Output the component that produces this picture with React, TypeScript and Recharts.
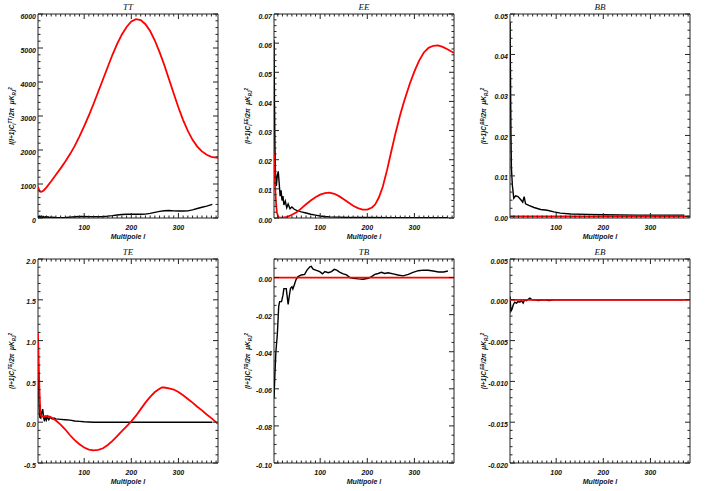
import React from 'react';
import { LineChart, Line, XAxis, YAxis, ReferenceArea } from 'recharts';

// ---------------- data ----------------
const X_DOMAIN: [number, number] = [2, 384];
const X_MAJOR = [100, 200, 300];
const X_LABELS = ['100', '200', '300'];

// TT
const TT_THEORY_L = [2, 4, 6, 8, 10, 14, 20, 30, 40, 50, 60, 70, 80, 90, 100, 110, 120, 130, 140, 150, 160, 170, 180, 190, 200, 210, 220, 230, 240, 250, 260, 270, 280, 290, 300, 310, 320, 330, 340, 350, 360, 370, 384];
const TT_THEORY = [920, 830, 780, 770, 775, 810, 900, 1080, 1270, 1460, 1660, 1880, 2120, 2400, 2700, 3020, 3360, 3720, 4080, 4440, 4800, 5120, 5400, 5620, 5780, 5850, 5820, 5700, 5500, 5220, 4880, 4500, 4080, 3660, 3250, 2880, 2560, 2300, 2100, 1960, 1860, 1800, 1770];
const TT_DATA_L = [2, 4, 6, 8, 10, 12, 14, 16, 18, 20, 23, 26, 30, 40, 50, 60, 70, 80, 90, 100, 110, 120, 130, 140, 150, 160, 170, 180, 190, 200, 210, 220, 230, 240, 250, 260, 270, 280, 290, 300, 310, 320, 330, 340, 350, 360, 372];
const TT_DATA = [60, 20, 60, 10, 50, 15, 45, 10, 40, 15, 35, 15, 25, 15, 10, 15, 25, 35, 45, 45, 40, 40, 40, 45, 55, 70, 90, 105, 110, 110, 110, 110, 115, 135, 165, 195, 215, 220, 210, 205, 205, 210, 240, 280, 315, 350, 400];
const TT_Y_MAJOR = [0, 1000, 2000, 3000, 4000, 5000, 6000];
const TT_Y_LABELS = ['0', '1000', '2000', '3000', '4000', '5000', '6000'];

// EE
const EE_THEORY_L = [2, 3, 4, 5, 6, 8, 11, 14, 20, 30, 40, 50, 60, 70, 80, 90, 100, 110, 120, 130, 140, 150, 160, 170, 180, 190, 200, 210, 217, 225, 233, 242, 250, 260, 270, 278, 290, 300, 310, 320, 330, 340, 350, 360, 370, 384];
const EE_THEORY = [0.0224, 0.018, 0.013, 0.009, 0.006, 0.002, 0.0004, 0.0001, 0.0001, 0.0004, 0.0011, 0.002, 0.0033, 0.0047, 0.006, 0.0071, 0.008, 0.0085, 0.0087, 0.0083, 0.0075, 0.0064, 0.0053, 0.0042, 0.0034, 0.0029, 0.0029, 0.0036, 0.0047, 0.0072, 0.0108, 0.0165, 0.0222, 0.0292, 0.0355, 0.04, 0.046, 0.0503, 0.054, 0.0568, 0.0584, 0.0591, 0.0592, 0.0587, 0.0579, 0.0566];
const EE_DATA_L = [2, 3, 4, 5, 7, 9, 11, 13, 15, 17, 19, 21, 23, 26, 29, 32, 36, 40, 45, 50, 60, 70, 80, 90, 100, 110, 120, 140, 160, 200, 250, 300, 372];
const EE_DATA = [0.061, 0.04, 0.025, 0.016, 0.011, 0.0145, 0.016, 0.012, 0.0075, 0.0095, 0.006, 0.0075, 0.0045, 0.0058, 0.0035, 0.0048, 0.0032, 0.0038, 0.003, 0.0026, 0.0021, 0.0017, 0.0013, 0.001, 0.0007, 0.0005, 0.0004, 0.0003, 0.0002, 0.00015, 0.0001, 0.0001, 0.0001];
const EE_Y_MAJOR = [0, 0.01, 0.02, 0.03, 0.04, 0.05, 0.06, 0.07];
const EE_Y_LABELS = ['0.00', '0.01', '0.02', '0.03', '0.04', '0.05', '0.06', '0.07'];

// BB
const BB_THEORY_L = [2, 384];
const BB_THEORY = [0, 0];
const BB_DATA_L = [2, 3, 4, 5, 7, 10, 14, 19, 25, 29, 32, 35, 42, 53, 67, 81, 95, 109, 131, 166, 201, 271, 372];
const BB_DATA = [0.048, 0.035, 0.021, 0.012, 0.0077, 0.0045, 0.0051, 0.0049, 0.0041, 0.0035, 0.0049, 0.0031, 0.0027, 0.0022, 0.0017, 0.0015, 0.0011, 0.0008, 0.0006, 0.0005, 0.0004, 0.0003, 0.0003];
const BB_Y_MAJOR = [0, 0.01, 0.02, 0.03, 0.04, 0.05];
const BB_Y_LABELS = ['0.00', '0.01', '0.02', '0.03', '0.04', '0.05'];

// TE
const TE_THEORY_L = [2, 3, 4, 5, 6, 7, 8, 12, 16, 20, 25, 30, 35, 40, 50, 60, 70, 80, 90, 100, 110, 120, 130, 140, 150, 160, 170, 180, 190, 200, 210, 220, 230, 240, 250, 260, 265, 270, 280, 290, 300, 310, 320, 330, 340, 350, 360, 370, 384];
const TE_THEORY = [1.09, 0.85, 0.62, 0.42, 0.25, 0.12, 0.08, 0.07, 0.07, 0.075, 0.07, 0.06, 0.04, 0.02, -0.03, -0.09, -0.16, -0.22, -0.27, -0.31, -0.335, -0.345, -0.34, -0.32, -0.28, -0.23, -0.17, -0.11, -0.05, 0.01, 0.08, 0.16, 0.24, 0.31, 0.37, 0.41, 0.425, 0.425, 0.415, 0.4, 0.37, 0.33, 0.285, 0.24, 0.19, 0.145, 0.095, 0.05, -0.02];
const TE_DATA_L = [2, 3, 4, 5, 6, 8, 10, 12, 14, 16, 18, 20, 22, 25, 28, 32, 36, 40, 50, 60, 70, 80, 90, 100, 120, 150, 200, 250, 300, 372];
const TE_DATA = [0.85, 0.55, 0.3, 0.12, 0.06, 0.05, 0.12, 0.16, 0.05, 0.01, 0.08, 0.03, 0.07, 0.03, 0.06, 0.04, 0.05, 0.04, 0.035, 0.03, 0.025, 0.015, 0.01, 0.005, 0.0, 0.0, 0.0, 0.0, 0.0, 0.0];
const TE_Y_MAJOR = [-0.5, 0, 0.5, 1.0, 1.5, 2.0];
const TE_Y_LABELS = ['-0.5', '0.0', '0.5', '1.0', '1.5', '2.0'];

// TB
const TB_THEORY_L = [2, 384];
const TB_THEORY = [0, 0];
const TB_DATA_L = [2, 4, 6, 9, 12, 14, 18, 21, 23, 28, 32, 35, 37, 40, 42, 45, 49, 53, 60, 67, 72, 78, 81, 85, 92, 99, 105, 110, 117, 124, 130, 135, 142, 149, 156, 163, 170, 181, 191, 202, 209, 216, 223, 230, 237, 244, 255, 265, 276, 287, 297, 308, 319, 329, 340, 351, 362, 371];
const TB_DATA = [-0.065, -0.052, -0.04, -0.031, -0.0155, -0.013, -0.013, -0.0095, -0.006, -0.006, -0.0145, -0.009, -0.0058, -0.005, -0.0062, -0.004, -0.001, 0.0005, 0.0014, 0.0017, 0.004, 0.0058, 0.006, 0.0045, 0.0039, 0.0032, 0.002, 0.0032, 0.0026, 0.0032, 0.0044, 0.004, 0.0028, 0.002, 0.0014, 0.0, -0.0004, -0.0007, -0.0009, -0.0004, 0.0005, 0.0017, 0.0022, 0.0028, 0.0022, 0.0026, 0.002, 0.0014, 0.0009, 0.0017, 0.0028, 0.0037, 0.004, 0.0039, 0.0035, 0.003, 0.003, 0.0035];
const TB_Y_MAJOR = [-0.1, -0.08, -0.06, -0.04, -0.02, 0];
const TB_Y_LABELS = ['-0.10', '-0.08', '-0.06', '-0.04', '-0.02', '0.00'];

// EB
const EB_THEORY_L = [2, 384];
const EB_THEORY = [0, 0];
const EB_DATA_L = [2, 4, 6, 9, 12, 16, 19, 23, 26, 30, 33, 37, 44, 49, 55, 62, 74, 85, 95, 150, 250, 372];
const EB_DATA = [0.0004, -0.0014, -0.0012, -0.0006, -0.0003, -0.0004, -0.0002, -0.0003, -0.0001, -0.0004, 0.0, -0.0001, 0.0002, 0.0, 0.0, -0.0001, 0.0, -0.0001, 0.0, 0.0, 0.0, 0.0];
const EB_Y_MAJOR = [-0.02, -0.015, -0.01, -0.005, 0, 0.005];
const EB_Y_LABELS = ['-0.020', '-0.015', '-0.010', '-0.005', '0.000', '0.005'];

// ---------------- layout ----------------
const PLOT_W = 180;
const PLOT_H = 204;
const ML = 40;
const MT = 12;
const MR = 4;
const MB = 28;
const COL_X = [38, 274, 510];
const ROW_Y = [14, 259];

const TICK_FONT = {
  fontFamily: '"Liberation Sans", Arial, sans-serif',
  fontStyle: 'italic' as const,
  fontWeight: 'bold' as const,
  fontSize: 7,
  fill: '#111',
};

const FRAME = '#222';

function makeTicks(lo: number, hi: number, step: number) {
  const n = Math.floor((hi - lo) / step + 1e-6);
  const out: number[] = [];
  for (let i = 0; i <= n; i++) out.push(+(lo + i * step).toFixed(6));
  return out;
}

const zip = (l: number[], v: number[]) => l.map((x, i) => ({ l: x, v: v[i] }));

const findMajor = (val: number, majors: number[]) => {
  const span = Math.abs(majors[majors.length - 1] - majors[0]) || 1;
  return majors.findIndex((m) => Math.abs(m - val) < span * 1e-6);
};

function XTick(props: any) {
  const { x, y, payload } = props;
  const i = findMajor(payload.value, X_MAJOR);
  const len = i >= 0 ? 5 : 2.5;
  return (
    <g>
      <line x1={x} y1={y} x2={x} y2={y - len} stroke={FRAME} strokeWidth={1} />
      <line x1={x} y1={y - PLOT_H} x2={x} y2={y - PLOT_H + len} stroke={FRAME} strokeWidth={1} />
      {i >= 0 && (
        <text x={x} y={y + 12} textAnchor="middle" {...TICK_FONT}>
          {X_LABELS[i]}
        </text>
      )}
    </g>
  );
}

function YTick(props: any) {
  const { x, y, payload, majors, labels } = props;
  const i = findMajor(payload.value, majors);
  const len = i >= 0 ? 5 : 2.5;
  return (
    <g>
      <line x1={x} y1={y} x2={x + len} y2={y} stroke={FRAME} strokeWidth={1} />
      <line x1={x + PLOT_W} y1={y} x2={x + PLOT_W - len} y2={y} stroke={FRAME} strokeWidth={1} />
      {i >= 0 && (
        <text x={x - 2} y={y + 4.5} textAnchor="end" {...TICK_FONT}>
          {labels[i]}
        </text>
      )}
    </g>
  );
}

function PanelTexts(props: any) {
  const { title, prefix, spec } = props;
  const cx = ML + PLOT_W / 2;
  const cy = MT + PLOT_H / 2;
  const lx = 16;
  return (
    <g>
      <text x={cx} y={MT - 4} textAnchor="middle" fontFamily='"Liberation Serif", "Times New Roman", serif' fontStyle="italic" fontSize={9} fill="#111">
        {title}
      </text>
      <text x={cx} y={MT + PLOT_H + 21} textAnchor="middle" {...TICK_FONT}>
        Multipole l
      </text>
      <text x={lx} y={cy} transform={`rotate(-90 ${lx} ${cy})`} textAnchor="middle" {...TICK_FONT} fontSize={6.5}>
        {prefix}C
        <tspan dy={1.5} fontSize={4.5}>l</tspan>
        <tspan dy={-4} fontSize={4.5}>{spec}</tspan>
        <tspan dy={2.5}>/2π{'\u00a0\u00a0'}μK</tspan>
        <tspan dy={1.5} fontSize={4.5}>RJ</tspan>
        <tspan dy={-4} fontSize={4.5}>2</tspan>
      </text>
    </g>
  );
}

type PanelProps = {
  col: number;
  row: number;
  title: string;
  prefix: string;
  domain: [number, number];
  majors: number[];
  labels: string[];
  minorStep: number;
  data: { l: number; v: number }[];
  theory: { l: number; v: number }[];
};

function Panel({ col, row, title, prefix, domain, majors, labels, minorStep, data, theory }: PanelProps) {
  const yTicks = makeTicks(majors[0], domain[1], minorStep);
  const xTicks = makeTicks(10, 380, 10);
  return (
    <div style={{ position: 'absolute', left: COL_X[col] - ML, top: ROW_Y[row] - MT }}>
      <LineChart width={ML + PLOT_W + MR} height={MT + PLOT_H + MB} margin={{ top: MT, right: MR, bottom: 0, left: 0 }}>
        <XAxis
          type="number"
          dataKey="l"
          domain={X_DOMAIN}
          ticks={xTicks}
          interval={0}
          allowDataOverflow
          tickLine={false}
          axisLine={false}
          tickSize={0}
          tickMargin={0}
          height={MB}
          tick={(p: any) => <XTick {...p} />}
          label={<PanelTexts title={title} prefix={prefix} spec={title} />}
        />
        <YAxis
          type="number"
          domain={domain}
          ticks={yTicks}
          interval={0}
          allowDataOverflow
          tickLine={false}
          axisLine={false}
          tickSize={0}
          tickMargin={0}
          width={ML}
          tick={(p: any) => <YTick {...p} majors={majors} labels={labels} />}
        />
        <ReferenceArea x1={X_DOMAIN[0]} x2={X_DOMAIN[1]} y1={domain[0]} y2={domain[1]} fill="none" fillOpacity={0} stroke={FRAME} strokeWidth={1} ifOverflow="visible" />
        <Line data={data} dataKey="v" type="linear" stroke="#000" strokeWidth={1.4} dot={false} isAnimationActive={false} />
        <Line data={theory} dataKey="v" type="linear" stroke="#ff0000" strokeWidth={1.8} dot={false} isAnimationActive={false} />
      </LineChart>
    </div>
  );
}

export default function App() {
  return (
    <div style={{ position: 'absolute', left: 0, top: 0, width: 708, height: 491, background: '#fff', overflow: 'hidden' }}>
      <Panel col={0} row={0} title="TT" prefix="l(l+1)" domain={[0, 6000]} majors={TT_Y_MAJOR} labels={TT_Y_LABELS} minorStep={200} data={zip(TT_DATA_L, TT_DATA)} theory={zip(TT_THEORY_L, TT_THEORY)} />
      <Panel col={1} row={0} title="EE" prefix="(l+1)" domain={[0, 0.07]} majors={EE_Y_MAJOR} labels={EE_Y_LABELS} minorStep={0.002} data={zip(EE_DATA_L, EE_DATA)} theory={zip(EE_THEORY_L, EE_THEORY)} />
      <Panel col={2} row={0} title="BB" prefix="(l+1)" domain={[-0.0004, 0.05]} majors={BB_Y_MAJOR} labels={BB_Y_LABELS} minorStep={0.002} data={zip(BB_DATA_L, BB_DATA)} theory={zip(BB_THEORY_L, BB_THEORY)} />
      <Panel col={0} row={1} title="TE" prefix="(l+1)" domain={[-0.5, 2.0]} majors={TE_Y_MAJOR} labels={TE_Y_LABELS} minorStep={0.1} data={zip(TE_DATA_L, TE_DATA)} theory={zip(TE_THEORY_L, TE_THEORY)} />
      <Panel col={1} row={1} title="TB" prefix="(l+1)" domain={[-0.1, 0.01]} majors={TB_Y_MAJOR} labels={TB_Y_LABELS} minorStep={0.005} data={zip(TB_DATA_L, TB_DATA)} theory={zip(TB_THEORY_L, TB_THEORY)} />
      <Panel col={2} row={1} title="EB" prefix="(l+1)" domain={[-0.02, 0.005]} majors={EB_Y_MAJOR} labels={EB_Y_LABELS} minorStep={0.001} data={zip(EB_DATA_L, EB_DATA)} theory={zip(EB_THEORY_L, EB_THEORY)} />
    </div>
  );
}
